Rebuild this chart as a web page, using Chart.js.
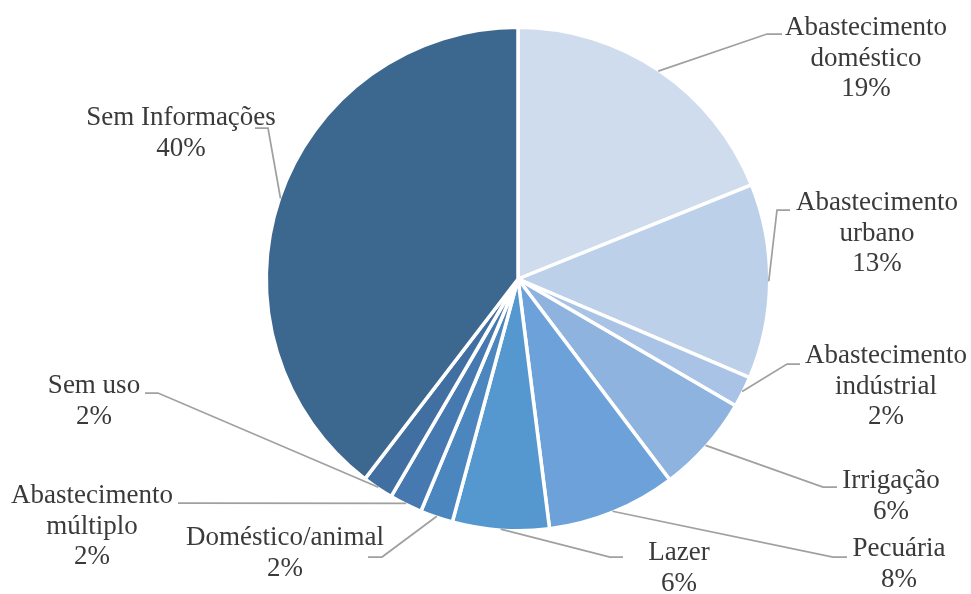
<!DOCTYPE html>
<html>
<head>
<meta charset="utf-8">
<script src="https://cdn.jsdelivr.net/npm/chart.js@4.4.0/dist/chart.umd.min.js"></script>
<style>
  html, body { margin: 0; padding: 0; background: #fff; }
  #wrap { width: 971px; height: 594px; position: relative; }
</style>
</head>
<body>
<div id="wrap"><canvas id="grafico"></canvas></div>
<script>
// categorias e valores (%)
const categorias = [
    ['Abastecimento', 'doméstico'],
    ['Abastecimento', 'urbano'],
    ['Abastecimento', 'indústrial'],
    ['Irrigação'],
    ['Pecuária'],
    ['Lazer'],
    ['Doméstico/animal'],
    ['Abastecimento', 'múltiplo'],
    ['Sem uso'],
    ['Sem Informações']
];
const valores = [18.9, 12.5, 2.0, 6.3, 8.3, 6.2, 2.1, 2.1, 2.0, 39.6];
const cores = ['#cfdcee', '#bcd0e9', '#a9c3e6', '#8eb3df', '#6ca2d9',
               '#5597cf', '#4b86be', '#4679b0', '#416fa1', '#3c6890'];

// onde fica cada rótulo (centro do texto, cotovelo e fim da linha guia)
const posRotulos = [
    { cx: 866, y: 28,  cotovelo: [767, 34],  fim: 782 },
    { cx: 877, y: 203, cotovelo: [777, 210], fim: 790 },
    { cx: 886, y: 356, cotovelo: [787, 364], fim: 800 },
    { cx: 891, y: 481, cotovelo: [823, 487], fim: 837 },
    { cx: 899, y: 549, cotovelo: [833, 557], fim: 847 },
    { cx: 679, y: 553, cotovelo: [610, 557], fim: 623 },
    { cx: 285, y: 538, cotovelo: [382, 557], fim: 368 },
    { cx: 92,  y: 496, cotovelo: [190, 503], fim: 178 },
    { cx: 94,  y: 386, cotovelo: [158, 393], fim: 145 },
    { cx: 181, y: 118, cotovelo: [268, 128], fim: 255 }
];

const rotulosPlugin = {
    id: 'rotulos',
    afterDraw(chart) {
        const ctx = chart.ctx;
        const meta = chart.getDatasetMeta(0);
        ctx.save();
        meta.data.forEach((arc, i) => {
            const p = posRotulos[i];
            const meio = (arc.startAngle + arc.endAngle) / 2;
            const r = arc.outerRadius - 1;
            const x0 = arc.x + Math.cos(meio) * r;
            const y0 = arc.y + Math.sin(meio) * r;
            ctx.strokeStyle = '#a0a0a0';
            ctx.lineWidth = 1.75;
            ctx.beginPath();
            ctx.moveTo(x0, y0);
            ctx.lineTo(p.cotovelo[0], p.cotovelo[1]);
            ctx.lineTo(p.fim, p.cotovelo[1]);
            ctx.stroke();

            const linhas = categorias[i].concat([Math.round(valores[i]) + '%']);
            ctx.fillStyle = '#3a3a3a';
            ctx.font = '27px "Liberation Serif", "Times New Roman", serif';
            ctx.textAlign = 'center';
            ctx.textBaseline = 'middle';
            linhas.forEach((t, k) => {
                ctx.fillText(t, p.cx, p.y + k * 30.5);
            });
        });
        ctx.restore();
    }
};

const ctx = document.getElementById('grafico').getContext('2d');
let grafico = new Chart(ctx, {
    type: 'pie',
    data: {
        labels: categorias,
        datasets: [{
            data: valores,
            backgroundColor: cores,
            borderColor: '#ffffff',
            borderWidth: 3.5
        }]
    },
    options: {
        responsive: true,
        maintainAspectRatio: false,
        animation: false,
        radius: 251.75,
        layout: {
            padding: { left: 263, top: 24, right: 198, bottom: 60 }
        },
        plugins: {
            legend: { display: false },
            tooltip: { enabled: false }
        }
    },
    plugins: [rotulosPlugin]
});
</script>
</body>
</html>
